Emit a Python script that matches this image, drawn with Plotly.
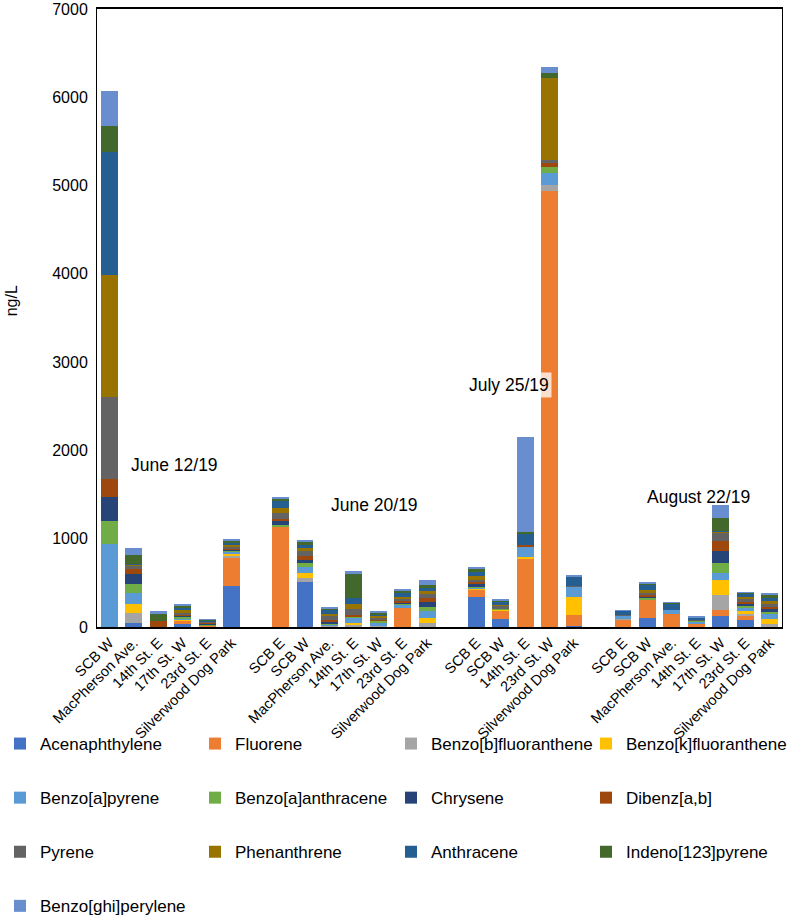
import plotly.graph_objects as go

# ---- data ----
dates = ["June 12/19", "June 20/19", "July 25/19", "August 22/19"]
sites_g1 = ["SCB W", "MacPherson Ave.", "14th St. E", "17th St. W", "23rd St. E", "Silverwood Dog Park"]
sites_g2 = ["SCB E", "SCB W", "MacPherson Ave.", "14th St. E", "17th St. W", "23rd St. E", "Silverwood Dog Park"]
sites_g3 = ["SCB E", "SCB W", "14th St. E", "23rd St. W", "Silverwood Dog Park"]
sites_g4 = ["SCB E", "SCB W", "MacPherson Ave.", "14th St. E", "17th St. W", "23rd St. E", "Silverwood Dog Park"]

compounds = ["Acenaphthylene", "Fluorene", "Benzo[b]fluoranthene", "Benzo[k]fluoranthene",
             "Benzo[a]pyrene", "Benzo[a]anthracene", "Chrysene", "Dibenz[a,b]",
             "Pyrene", "Phenanthrene", "Anthracene", "Indeno[123]pyrene", "Benzo[ghi]perylene"]

# values per compound, bars in order g1 (6), g2 (7), g3 (5), g4 (7)
acenaphthylene = [0, 49, 0, 38, 8, 464,   0, 510, 5, 5, 10, 0, 0,   336, 94, 0, 0, 8,   0, 106, 0, 5, 125, 75, 0]
fluorene       = [0, 0, 0, 35, 5, 313,   1133, 0, 5, 5, 0, 215, 0,   87, 94, 781, 4938, 125,   83, 204, 143, 25, 68, 49, 0]
benzo_b_fl     = [0, 113, 0, 5, 0, 26,   0, 49, 5, 20, 3, 0, 45,   5, 3, 0, 68, 0,   5, 0, 0, 0, 166, 26, 38]
benzo_k_fl     = [0, 94, 0, 5, 0, 26,   0, 53, 5, 19, 3, 0, 53,   5, 3, 15, 0, 204,   0, 0, 0, 0, 174, 30, 57]
benzo_a_pyr    = [940, 132, 0, 15, 5, 23,   0, 64, 10, 55, 40, 45, 79,   12, 5, 117, 132, 117,   41, 5, 49, 30, 83, 30, 49]
benzo_a_anth   = [265, 102, 0, 20, 5, 10,   26, 49, 15, 11, 15, 10, 49,   12, 5, 0, 75, 0,   5, 8, 0, 15, 109, 34, 30]
chrysene       = [270, 106, 0, 10, 12, 15,   45, 38, 20, 8, 8, 10, 53,   26, 5, 0, 0, 0,   0, 23, 0, 0, 132, 19, 26]
dibenz         = [200, 64, 68, 15, 15, 15,   23, 38, 20, 8, 8, 15, 49,   30, 5, 15, 38, 0,   0, 15, 0, 0, 121, 19, 26]
pyrene         = [930, 38, 3, 20, 8, 20,   64, 57, 35, 68, 20, 25, 45,   20, 20, 0, 38, 11,   5, 25, 0, 5, 91, 38, 38]
phenanthrene   = [1385, 8, 0, 25, 5, 20,   57, 38, 30, 57, 20, 25, 40,   40, 25, 0, 924, 0,   0, 38, 0, 0, 11, 19, 30]
anthracene     = [1390, 8, 0, 25, 10, 25,   75, 30, 40, 72, 20, 40, 30,   49, 20, 136, 0, 109,   45, 60, 75, 22, 8, 38, 38]
indeno         = [295, 98, 75, 25, 10, 20,   30, 34, 25, 283, 20, 25, 35,   38, 25, 8, 64, 0,   3, 11, 5, 5, 147, 11, 38]
benzo_ghi      = [395, 83, 38, 15, 5, 15,   19, 26, 12, 19, 10, 16, 57,   15, 8, 1085, 62, 5,   3, 8, 4, 8, 143, 8, 15]

series = [acenaphthylene, fluorene, benzo_b_fl, benzo_k_fl, benzo_a_pyr, benzo_a_anth, chrysene,
          dibenz, pyrene, phenanthrene, anthracene, indeno, benzo_ghi]
colors = ["#4472C4", "#ED7D31", "#A5A5A5", "#FFC000", "#5B9BD5", "#70AD47", "#264478",
          "#9E480E", "#636363", "#997300", "#255E91", "#43682B", "#698ED0"]

# ---- x positions (one empty slot between date groups) ----
groups = [sites_g1, sites_g2, sites_g3, sites_g4]
xpos, labels = [], []
pos = 0
for g in groups:
    for s in g:
        xpos.append(pos)
        labels.append(s)
        pos += 1
    pos += 1  # gap
n_slots = pos - 1

FONT = "Liberation Sans, Arial, sans-serif"
FS = 16
XFS = 14.5
LFS = 17
W, H = 797, 919

# legend: 4 columns, each a vertical legend; items laid out row-major like the reference
legend_names = ["legend", "legend2", "legend3", "legend4"]
col_x = [0, 195, 391, 586]
legend_top = 726

fig = go.Figure()
for i, (name, vals, col) in enumerate(zip(compounds, series, colors)):
    fig.add_trace(go.Bar(x=xpos, y=vals, name=name, legend=legend_names[i % 4],
                         legendgroup=name, legendrank=i,
                         marker=dict(color=col, line=dict(width=0))))

layout_legends = {}
for ln, cx in zip(legend_names, col_x):
    layout_legends[ln] = dict(orientation="v", xref="container", yref="container",
                              x=cx / W, y=1 - legend_top / H, xanchor="left", yanchor="top",
                              itemwidth=30, traceorder="grouped", tracegroupgap=29,
                              bgcolor="rgba(0,0,0,0)",
                              font=dict(family=FONT, size=LFS, color="#000000"),
                              itemclick=False, itemdoubleclick=False)

fig.update_layout(
    width=W, height=H,
    barmode="stack", bargap=0.31,
    plot_bgcolor="white", paper_bgcolor="white",
    margin=dict(l=97, r=15, t=9, b=292, autoexpand=False),
    font=dict(family=FONT, size=FS, color="#000000"),
    showlegend=True,
    **layout_legends,
)
fig.update_xaxes(range=[-0.5, n_slots - 0.5], tickmode="array", tickvals=xpos, ticktext=labels,
                 tickangle=-45, showline=True, linecolor="#000000", linewidth=1.5, mirror=True,
                 ticks="", showgrid=False, zeroline=False, automargin=False,
                 ticklabeloverflow="allow",
                 tickfont=dict(family=FONT, size=XFS, color="#000000"))
fig.update_yaxes(range=[0, 7000], dtick=1000, showline=True, linecolor="#000000", linewidth=1,
                 mirror=True, ticks="", showgrid=False, zeroline=False, automargin=False,
                 ticklabeloverflow="allow", ticklabelstandoff=5,
                 tickfont=dict(family=FONT, size=FS, color="#000000"))

# y-axis title
fig.add_annotation(text="ng/L", xref="paper", yref="paper", x=-0.140, y=0.528, showarrow=False,
                   textangle=-90, font=dict(family=FONT, size=FS, color="#000000"))

# date labels
date_pos = [(2.68, 1830, None), (10.85, 1385, None), (16.36, 2740, "rgba(255,255,255,0.75)"), (24.1, 1475, None)]
for d, (dx, dy, bg) in zip(dates, date_pos):
    fig.add_annotation(text=d, x=dx, y=dy, xref="x", yref="y", showarrow=False,
                       font=dict(family=FONT, size=17.5, color="#000000"),
                       bgcolor=bg if bg else "rgba(0,0,0,0)", borderpad=2)

fig.write_html("out.html", config={"displayModeBar": False},
               post_script="document.body.style.margin='0';")
